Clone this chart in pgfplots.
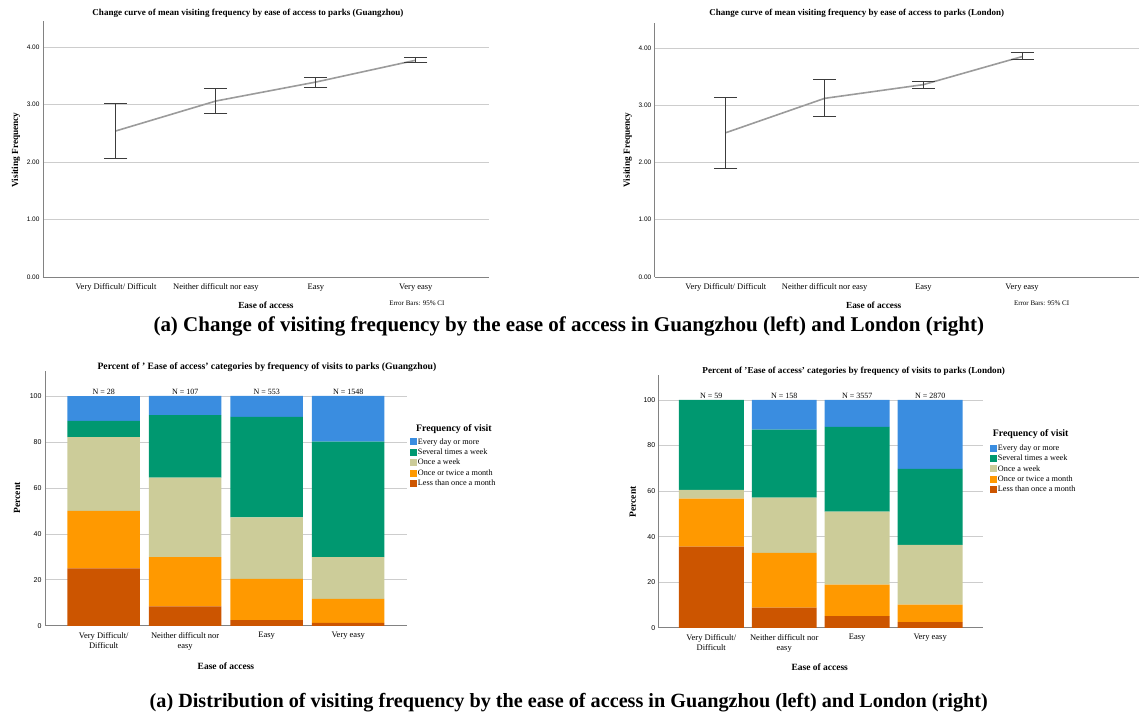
\documentclass[border=0pt]{standalone}
\usepackage{pgfplots}
\pgfplotsset{compat=1.18}
\usepackage{fontspec}
\setmainfont{Liberation Serif}
\newfontfamily\sansnum{Liberation Sans}
\definecolor{cBlue}{RGB}{58,141,224}
\definecolor{cGreen}{RGB}{0,152,112}
\definecolor{cKhaki}{RGB}{204,204,153}
\definecolor{cOrange}{RGB}{255,153,0}
\definecolor{cRust}{RGB}{204,85,0}
\definecolor{gridgray}{RGB}{205,205,205}
\definecolor{axgray}{RGB}{130,130,130}
\definecolor{linegray}{RGB}{155,155,155}
\definecolor{errgray}{RGB}{60,60,60}

\pgfplotsset{
  base/.style={scale only axis, axis lines*=left,
    axis line style={draw=axgray, line width=0.8pt},
    major tick length=0pt, ymajorgrids,
    grid style={draw=gridgray, line width=0.7pt},
    clip=false,
    /pgf/number format/assume math mode=true,
    xticklabel style={font=\fontsize{8.5}{10}\selectfont, align=center, text depth=0pt, yshift=-3pt},
    yticklabel style={font=\fontsize{6.5}{7}\sansnum},
  },
  linech/.style={base, xmin=-0.73, xmax=3.73, ymin=0,
    xtick={0,1,2,3},
    xticklabels={Very Difficult/ Difficult, Neither difficult nor easy, Easy, Very easy},
    ytick={0,1,2,3,4},
    yticklabel={\pgfmathprintnumber[fixed,fixed zerofill,precision=2]{\tick}},
  },
  meanline/.style={linegray, line width=1.6pt, mark=none,
    error bars/.cd, y dir=both, y explicit,
    error bar style={errgray, line width=1pt},
    error mark options={errgray, line width=1pt, mark size=11.5pt, rotate=90}},
  barch/.style={base, ybar stacked, bar width=0.89, ymin=0,
    xmin=-0.72, xmax=3.72, xtick={0,1,2,3},
    xticklabels={{Very Difficult/\\Difficult}, {Neither difficult nor\\easy}, Easy, Very easy},
    ytick={0,20,40,60,80,100},
    yticklabel style={font=\fontsize{7}{8}\sansnum},
    reverse legend,
    legend style={draw=none, fill=none, inner sep=0pt, row sep=1.2pt,
      font=\fontsize{8.2}{8.5}\selectfont, cells={anchor=west},
      nodes={inner sep=1pt}},
  },
  sq/.style={draw=none, legend image code/.code={\fill[##1] (0pt,-3.5pt) rectangle (7pt,3.5pt);}},
}

\begin{document}
\begin{tikzpicture}
\path (0pt,0pt) rectangle (1139pt,-716pt);

% ---------- Top-left: Guangzhou mean curve ----------
\begin{axis}[linech, at={(43pt,-277pt)}, anchor=south west,
  width=446pt, height=256pt, ymax=4.452]
\addplot[meanline] coordinates {
  (0,2.54) += (0,0.47) -= (0,0.48)
  (1,3.06) += (0,0.21) -= (0,0.21)
  (2,3.39) += (0,0.08) -= (0,0.09)
  (3,3.77) += (0,0.04) -= (0,0.04)
};
\end{axis}

% ---------- Top-right: London mean curve ----------
\begin{axis}[linech, at={(655pt,-277pt)}, anchor=south west,
  width=484pt, height=254pt, ymax=4.437, xmin=-0.72, xmax=4.18]
\addplot[meanline] coordinates {
  (0,2.52) += (0,0.62) -= (0,0.62)
  (1,3.12) += (0,0.33) -= (0,0.32)
  (2,3.36) += (0,0.05) -= (0,0.06)
  (3,3.85) += (0,0.07) -= (0,0.05)
};
\end{axis}

% ---------- Bottom-left: Guangzhou stacked bars ----------
\begin{axis}[barch, at={(45pt,-626pt)}, anchor=south west,
  width=362pt, height=255pt, ymax=110.9,
  legend style={at={(1.008,0.74)}, anchor=north west}]
\addplot[fill=cRust, sq] coordinates {(0,25.0) (1,8.4) (2,2.5) (3,1.3)};
\addlegendentry{Less than once a month}
\addplot[fill=cOrange, sq] coordinates {(0,25.0) (1,21.5) (2,17.9) (3,10.4)};
\addlegendentry{Once or twice a month}
\addplot[fill=cKhaki, sq] coordinates {(0,32.1) (1,34.6) (2,26.8) (3,18.2)};
\addlegendentry{Once a week}
\addplot[fill=cGreen, sq] coordinates {(0,7.1) (1,27.1) (2,43.7) (3,50.2)};
\addlegendentry{Several times a week}
\addplot[fill=cBlue, sq] coordinates {(0,10.7) (1,8.4) (2,9.1) (3,19.9)};
\addlegendentry{Every day or more}
\node[font=\fontsize{8}{9}\selectfont, anchor=south, inner sep=1.5pt] at (axis cs:0,100) {N = 28};
\node[font=\fontsize{8}{9}\selectfont, anchor=south, inner sep=1.5pt] at (axis cs:1,100) {N = 107};
\node[font=\fontsize{8}{9}\selectfont, anchor=south, inner sep=1.5pt] at (axis cs:2,100) {N = 553};
\node[font=\fontsize{8}{9}\selectfont, anchor=south, inner sep=1.5pt] at (axis cs:3,100) {N = 1548};
\end{axis}

% ---------- Bottom-right: London stacked bars ----------
\begin{axis}[barch, at={(659pt,-628pt)}, anchor=south west,
  width=324pt, height=253pt, ymax=111,
  legend style={at={(1.022,0.729)}, anchor=north west}]
\addplot[fill=cRust, sq] coordinates {(0,35.6) (1,8.9) (2,5.1) (3,2.5)};
\addlegendentry{Less than once a month}
\addplot[fill=cOrange, sq] coordinates {(0,21.1) (1,24.0) (2,13.9) (3,7.7)};
\addlegendentry{Once or twice a month}
\addplot[fill=cKhaki, sq] coordinates {(0,3.8) (1,24.2) (2,32.0) (3,26.2)};
\addlegendentry{Once a week}
\addplot[fill=cGreen, sq] coordinates {(0,39.5) (1,29.9) (2,37.2) (3,33.3)};
\addlegendentry{Several times a week}
\addplot[fill=cBlue, sq] coordinates {(0,0) (1,13.0) (2,11.8) (3,30.3)};
\addlegendentry{Every day or more}
\node[font=\fontsize{8}{9}\selectfont, anchor=south, inner sep=1.5pt] at (axis cs:0,100) {N = 59};
\node[font=\fontsize{8}{9}\selectfont, anchor=south, inner sep=1.5pt] at (axis cs:1,100) {N = 158};
\node[font=\fontsize{8}{9}\selectfont, anchor=south, inner sep=1.5pt] at (axis cs:2,100) {N = 3557};
\node[font=\fontsize{8}{9}\selectfont, anchor=south, inner sep=1.5pt] at (axis cs:3,100) {N = 2870};
\end{axis}

% ---------- Texts ----------
\begin{scope}[every node/.style={inner sep=0pt}]
\node[font=\bfseries\fontsize{9.05}{10}\selectfont] at (248pt,-13pt) {Change curve of mean visiting frequency by ease of access to parks (Guangzhou)};
\node[font=\bfseries\fontsize{9.3}{10}\selectfont, rotate=90] at (16pt,-150pt) {Visiting Frequency};
\node[font=\bfseries\fontsize{9.3}{10}\selectfont] at (266pt,-305pt) {Ease of access};
\node[font=\fontsize{7}{8}\selectfont] at (417pt,-303pt) {Error Bars: 95\% CI};

\node[font=\bfseries\fontsize{9.0}{10}\selectfont] at (857pt,-13pt) {Change curve of mean visiting frequency by ease of access to parks (London)};
\node[font=\bfseries\fontsize{9.3}{10}\selectfont, rotate=90] at (628pt,-150pt) {Visiting Frequency};
\node[font=\bfseries\fontsize{9.3}{10}\selectfont] at (874pt,-305pt) {Ease of access};
\node[font=\fontsize{7}{8}\selectfont] at (1042pt,-303pt) {Error Bars: 95\% CI};

\node[font=\bfseries\fontsize{21}{22}\selectfont] at (569pt,-327pt) {(a) Change of visiting frequency by the ease of access in Guangzhou (left) and London (right)};

\node[font=\bfseries\fontsize{9.7}{10}\selectfont] at (267pt,-367pt) {Percent of ' Ease of access' categories by frequency of visits to parks (Guangzhou)};
\node[font=\bfseries\fontsize{9.5}{10}\selectfont, rotate=90] at (17pt,-498pt) {Percent};
\node[font=\bfseries\fontsize{9.5}{10}\selectfont] at (226pt,-666pt) {Ease of access};
\node[font=\bfseries\fontsize{9.9}{11}\selectfont] at (454pt,-429pt) {Frequency of visit};

\node[font=\bfseries\fontsize{9.15}{10}\selectfont] at (854pt,-371pt) {Percent of 'Ease of access' categories by frequency of visits to parks (London)};
\node[font=\bfseries\fontsize{9.5}{10}\selectfont, rotate=90] at (633pt,-502pt) {Percent};
\node[font=\bfseries\fontsize{9.5}{10}\selectfont] at (820pt,-667pt) {Ease of access};
\node[font=\bfseries\fontsize{9.9}{11}\selectfont] at (1031pt,-434pt) {Frequency of visit};

\node[font=\bfseries\fontsize{20.2}{21}\selectfont] at (569pt,-703pt) {(a) Distribution of visiting frequency by the ease of access in Guangzhou (left) and London (right)};
\end{scope}
\end{tikzpicture}
\end{document}
